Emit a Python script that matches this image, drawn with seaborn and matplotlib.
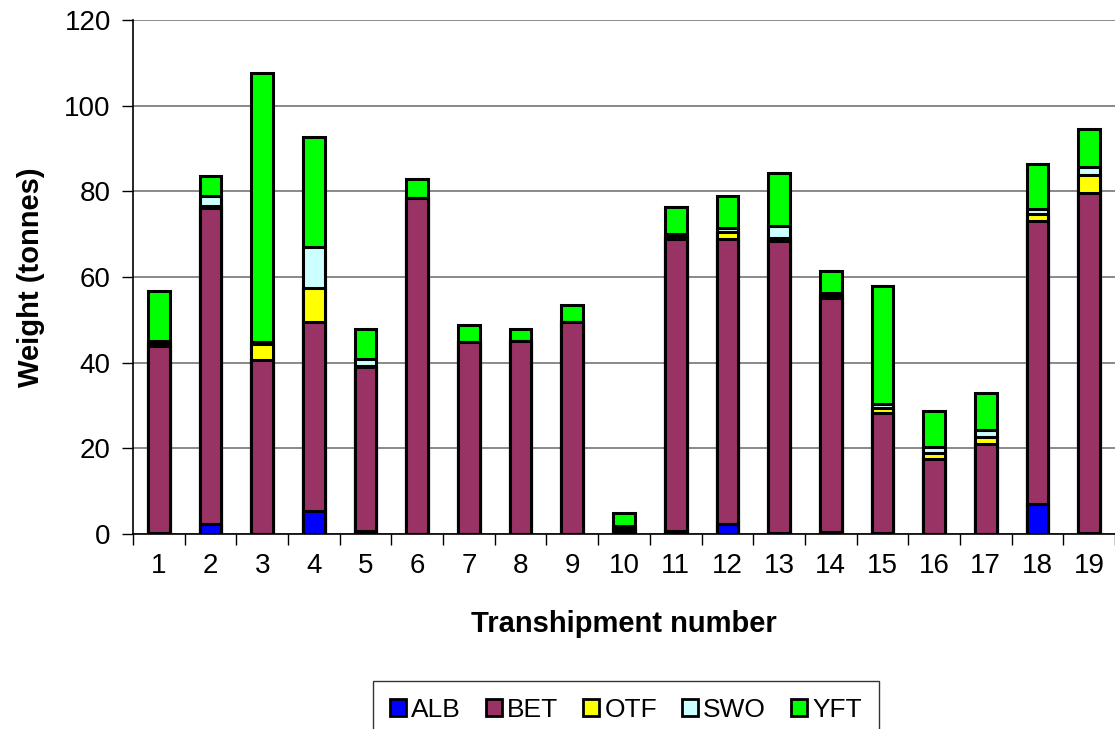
#!/usr/bin/env python3
"""
Stacked bar chart of catch weight by species for each transhipment.
"""

import matplotlib

matplotlib.use("Agg")
import matplotlib.pyplot as plt
from matplotlib.patches import Patch
import numpy as np
import pandas as pd
import seaborn as sns  # type: ignore

# Data (tonnes)
transhipments = [str(i) for i in range(1, 20)]
species = ["ALB", "BET", "OTF", "SWO", "YFT"]

alb = [0.3, 2.4, 0.0, 5.3, 0.7, 0.0, 0.0, 0.0, 0.0, 0.2, 0.8, 2.4, 0.3, 0.5, 0.2, 0.0, 0.0, 7.1, 0.2]
bet = [43.5, 73.6, 40.7, 44.3, 38.3, 78.4, 44.8, 45.0, 49.5, 0.8, 68.0, 66.5, 68.2, 54.6, 28.0, 17.5, 21.0, 66.0, 79.3]
otf = [0.5, 0.5, 3.7, 7.9, 0.3, 0.0, 0.0, 0.0, 0.0, 0.5, 0.5, 1.7, 0.6, 0.5, 1.2, 1.4, 1.6, 1.5, 4.2]
swo = [0.7, 2.3, 0.5, 9.4, 1.5, 0.0, 0.0, 0.0, 0.0, 0.3, 0.8, 0.8, 2.7, 0.6, 1.0, 1.3, 1.6, 1.2, 1.9]
yft = [11.8, 4.8, 62.7, 25.9, 7.0, 4.5, 4.0, 2.9, 4.0, 3.0, 6.2, 7.6, 12.4, 5.2, 27.4, 8.6, 8.7, 10.5, 9.0]

colors = {
    "ALB": "#0000FF",
    "BET": "#993366",
    "OTF": "#FFFF00",
    "SWO": "#CCFFFF",
    "YFT": "#00FF00",
}

df = pd.DataFrame(
    {"ALB": alb, "BET": bet, "OTF": otf, "SWO": swo, "YFT": yft},
    index=transhipments,
)
# Cumulative totals, so drawing from the top layer down gives a stack
cum = df.cumsum(axis=1)

sns.set_style("white")
plt.rcParams["font.family"] = ["Liberation Sans", "DejaVu Sans"]
plt.rcParams["text.color"] = "black"
plt.rcParams["axes.labelcolor"] = "black"
plt.rcParams["xtick.color"] = "black"
plt.rcParams["ytick.color"] = "black"

fig = plt.figure(figsize=(11.15, 7.29), dpi=100)
ax = fig.add_axes([133 / 1115, 1 - 534 / 729, (1115 - 133) / 1115, (534 - 20) / 729])

for name in reversed(species):
    sns.barplot(
        x=transhipments,
        y=cum[name].values,
        order=transhipments,
        color=colors[name],
        saturation=1,
        width=0.42,
        edgecolor="black",
        linewidth=2.2,
        ax=ax,
        zorder=3,
    )

ax.set_ylim(0, 120)
ax.set_xlim(-0.5, 18.5)
ax.set_yticks(np.arange(0, 121, 20))
ax.yaxis.grid(True, color="#808080", linewidth=1.3, zorder=0)
ax.set_axisbelow(True)

for side in ["top", "right"]:
    ax.spines[side].set_visible(False)
ax.spines["left"].set_color("black")
ax.spines["bottom"].set_color("black")
ax.spines["left"].set_linewidth(1.2)
ax.spines["bottom"].set_linewidth(1.2)

# tick marks sit between categories on x
ax.set_xticks(np.arange(-0.5, 18.6, 1.0), minor=True)
ax.tick_params(axis="x", which="major", length=0, labelsize=20, pad=14)
ax.tick_params(axis="x", which="minor", length=8, width=1, color="black", direction="out", bottom=True)
ax.tick_params(axis="y", length=8, width=1, color="black", direction="out", left=True, labelsize=20, pad=8)

ax.set_xlabel("Transhipment number", fontsize=21, fontweight="bold", labelpad=22)
ax.set_ylabel("Weight (tonnes)", fontsize=21, fontweight="bold", labelpad=14)

handles = [Patch(facecolor=colors[s], edgecolor="black", linewidth=2) for s in species]
leg = fig.legend(
    handles,
    species,
    loc="upper center",
    bbox_to_anchor=(0.5614, 1 - 681 / 729),
    ncol=5,
    fontsize=19,
    frameon=True,
    fancybox=False,
    handlelength=0.6,
    handleheight=0.6,
    handletextpad=0.2,
    columnspacing=0.95,
    borderpad=0.65,
    borderaxespad=0.0,
)
leg.get_frame().set_edgecolor("black")
leg.get_frame().set_linewidth(1.0)

fig.savefig("out.png", dpi=100)
